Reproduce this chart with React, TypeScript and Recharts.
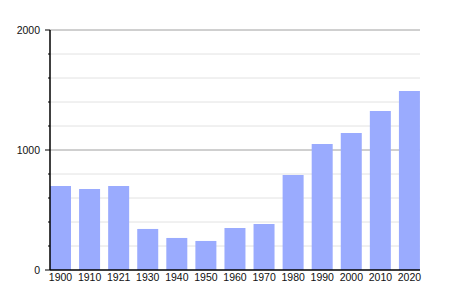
import * as React from 'react';
import { BarChart, Bar, XAxis, YAxis, CartesianGrid } from 'recharts';

const years = ['1900', '1910', '1921', '1930', '1940', '1950', '1960', '1970', '1980', '1990', '2000', '2010', '2020'];
const population = [700, 675, 700, 342, 267, 242, 350, 383, 792, 1050, 1142, 1325, 1492];
const yTicks = [0, 200, 400, 600, 800, 1000, 1200, 1400, 1600, 1800, 2000];
const majorTicks = [0, 1000, 2000];
const minorGrid = [200, 400, 600, 800, 1200, 1400, 1600, 1800];
const majorGrid = [1000, 2000];

const data = years.map((year, i) => ({ year, pop: population[i] }));

const AXIS_X = 42;
const FONT = '"Liberation Sans", Arial, sans-serif';

const YTick = (props: any) => {
  const { y, payload } = props;
  const major = majorTicks.includes(payload.value);
  return (
    <g>
      <line x1={AXIS_X - (major ? 5 : 2)} x2={AXIS_X} y1={y} y2={y} stroke="#000" strokeWidth={1} />
      {major && (
        <text x={AXIS_X - 10} y={y} dy="0.355em" textAnchor="end" fontSize={10.5} fontFamily={FONT} fill="#111">
          {payload.value}
        </text>
      )}
    </g>
  );
};

export default function App() {
  return (
    <BarChart width={434} height={284} data={data} margin={{ top: 22, right: 22, bottom: 2, left: 0 }} barCategoryGap={4}>
      <CartesianGrid vertical={false} horizontalValues={minorGrid} stroke="#e2e2e2" strokeWidth={1} />
      <CartesianGrid vertical={false} horizontalValues={majorGrid} stroke="#a0a0a0" strokeWidth={1} />
      <XAxis
        dataKey="year"
        height={20}
        padding={{ left: -4, right: -4 }}
        axisLine={{ stroke: '#000', strokeWidth: 1.5 }}
        tickLine={false}
        tickSize={0}
        tickMargin={4}
        interval={0}
        tick={{ fontSize: 10.5, fontFamily: FONT, fill: '#111' }}
      />
      <YAxis
        width={42}
        domain={[0, 2000]}
        ticks={yTicks}
        interval={0}
        axisLine={{ stroke: '#000', strokeWidth: 1.5 }}
        tickLine={false}
        tick={<YTick />}
      />
      <Bar dataKey="pop" fill="#9aabfe" isAnimationActive={false} />
    </BarChart>
  );
}
